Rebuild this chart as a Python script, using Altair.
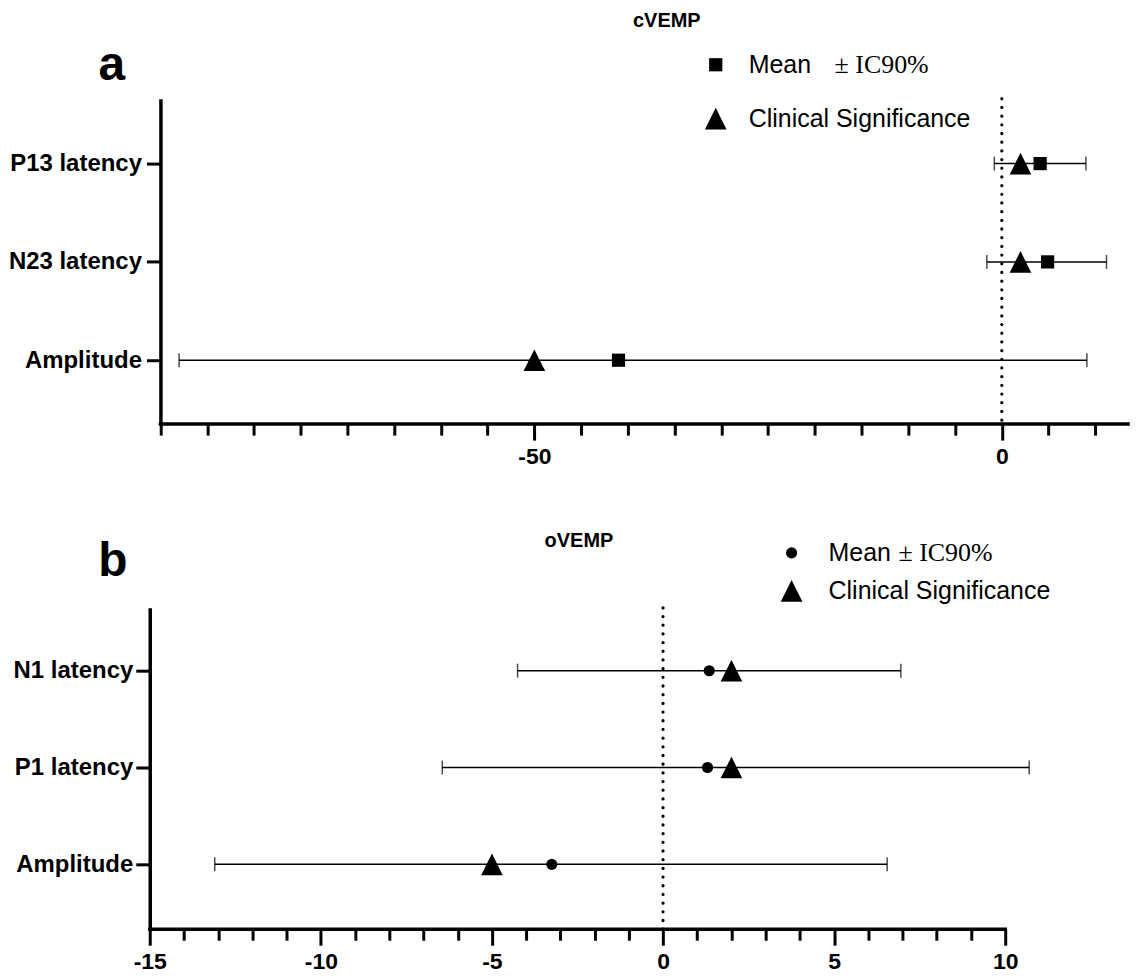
import altair as alt
import pandas as pd

# ---------- Panel a (cVEMP) ----------
a_labels = ["P13 latency", "N23 latency", "Amplitude"]
a_pos = [3, 2, 1]
a_mean = [4.1, 4.9, -41.0]
a_low = [-0.8, -1.6, -88.0]
a_high = [9.0, 11.2, 9.1]
a_clin = [2.0, 2.0, -50.0]
a_ticks = [-90, -85, -80, -75, -70, -65, -60, -55, -50, -45, -40, -35, -30,
           -25, -20, -15, -10, -5, 0, 5, 10]
a_major = [-50, 0]
a_axis_ends = [-90, 13.5]

# ---------- Panel b (oVEMP) ----------
b_labels = ["N1 latency", "P1 latency", "Amplitude"]
b_pos = [3, 2, 1]
b_mean = [1.35, 1.3, -3.25]
b_low = [-4.25, -6.45, -13.1]
b_high = [6.95, 10.7, 6.55]
b_clin = [2.0, 2.0, -5.0]
b_ticks = [-15, -14, -13, -12, -11, -10, -9, -8, -7, -6, -5, -4, -3, -2, -1,
           0, 1, 2, 3, 4, 5, 6, 7, 8, 9, 10]
b_major = [-15, -10, -5, 0, 5, 10]
b_axis_ends = [-15, 10]

TRI = "M0,-1L-1,1L1,1Z"
SANS = "Liberation Sans"
SERIF = "Liberation Serif"


def one(text):
    return alt.Chart(pd.DataFrame({"t": [text]}))


def make_panel(labels, pos, mean, low, high, clin, xdom, axis_ends, ticks,
               major, width, height, ydom, yoffset, mean_shape, mean_size,
               title, title_xy, letter, letter_xy, sym_x, text_x, pm_x,
               leg_y1, leg_y2, ylab_pad, left_ext):
    df = pd.DataFrame({"pos": pos, "mean": mean, "low": low, "high": high,
                       "clin": clin, "lab": labels})
    major_s = "[" + ",".join(str(m) for m in major) + "]"
    test = f"indexof({major_s}, datum.value) >= 0"
    xscale = alt.Scale(domain=xdom, nice=False, zero=False)
    yscale = alt.Scale(domain=ydom, nice=False, zero=False)
    xaxis = alt.Axis(
        values=ticks, title=None, grid=False, domain=False,
        labelExpr=f"{test} ? '' + datum.value : ''",
        tickSize={"condition": {"test": test, "value": 16}, "value": 11},
        labelPadding=5, labelFontSize=23, labelFont=SANS,
        labelFontWeight="bold", labelColor="black",
        tickColor="black", tickWidth=3, labelFlush=False, labelOverlap=False,
    )
    yexpr = " : ".join(f"datum.value == {p} ? '{l}'" for p, l in zip(pos, labels)) + " : ''"
    yaxis = alt.Axis(
        values=pos, title=None, grid=False, labelExpr=yexpr, offset=yoffset,
        tickSize=14, labelPadding=ylab_pad, labelFontSize=24, labelFont=SANS,
        labelFontWeight="bold", labelColor="black",
        domainColor="black", domainWidth=3.5, tickColor="black", tickWidth=3,
    )

    def X(f):
        return alt.X(f, type="quantitative", scale=xscale, axis=xaxis)

    def Y(f):
        return alt.Y(f, type="quantitative", scale=yscale, axis=yaxis)

    base = alt.Chart(df)
    xline = alt.Chart(pd.DataFrame({"x0": [axis_ends[0]], "x1": [axis_ends[1]]})).mark_rule(
        color="black", strokeWidth=3.5, strokeCap="square"
    ).encode(x=X("x0"), x2="x1", y=alt.value(height))
    zero = alt.Chart(pd.DataFrame({"z": [0]})).mark_rule(
        color="black", strokeWidth=3.2, strokeCap="round", strokeDash=[0.1, 8.6]
    ).encode(x=X("z"))
    err = base.mark_rule(color="black", strokeWidth=1.5).encode(
        x=X("low"), x2="high", y=Y("pos"))
    cap_lo = base.mark_tick(orient="vertical", size=14, thickness=1.5,
                            color="black").encode(x=X("low"), y=Y("pos"))
    cap_hi = base.mark_tick(orient="vertical", size=14, thickness=1.5,
                            color="black").encode(x=X("high"), y=Y("pos"))
    tri = base.mark_point(shape=TRI, filled=True, size=470, color="black",
                          opacity=1).encode(x=X("clin"), y=Y("pos"))
    mpt = base.mark_point(shape=mean_shape, filled=True, size=mean_size,
                          color="black", opacity=1).encode(x=X("mean"), y=Y("pos"))

    ttl = one(title).mark_text(font=SANS, fontWeight="bold", fontSize=20,
                               color="black", align="center",
                               baseline="middle").encode(
        x=alt.value(title_xy[0]), y=alt.value(title_xy[1]), text="t:N")
    let = one(letter).mark_text(font=SANS, fontWeight="bold", fontSize=48,
                                color="black", align="center",
                                baseline="middle").encode(
        x=alt.value(letter_xy[0]), y=alt.value(letter_xy[1]), text="t:N")
    s1 = one("s").mark_point(shape=mean_shape, filled=True, size=mean_size,
                             color="black", opacity=1).encode(
        x=alt.value(sym_x), y=alt.value(leg_y1))
    s2 = one("s").mark_point(shape=TRI, filled=True, size=470, color="black",
                             opacity=1).encode(
        x=alt.value(sym_x), y=alt.value(leg_y2))
    t1 = one("Mean").mark_text(font=SANS, fontSize=25, color="black",
                               align="left", baseline="middle").encode(
        x=alt.value(text_x), y=alt.value(leg_y1), text="t:N")
    t1b = one("\u00b1 IC90%").mark_text(font=SERIF, fontSize=26, color="black",
                                        align="left", baseline="middle").encode(
        x=alt.value(pm_x), y=alt.value(leg_y1), text="t:N")
    t2 = one("Clinical Significance").mark_text(
        font=SANS, fontSize=25, color="black", align="left",
        baseline="middle").encode(x=alt.value(text_x), y=alt.value(leg_y2),
                                  text="t:N")
    # invisible anchor fixing the panel's left extent
    ext = one(".").mark_text(fontSize=10, opacity=0, align="left").encode(
        x=alt.value(left_ext), y=alt.value(height / 2), text="t:N")
    layers = [xline, zero, err, cap_lo, cap_hi, tri, mpt, ttl, let, s1, s2,
              t1, t1b, t2, ext]
    return alt.layer(*layers).properties(width=width, height=height)


pa = make_panel(a_labels, a_pos, a_mean, a_low, a_high, a_clin,
                [-91.14, 13.5], a_axis_ends, a_ticks, a_major, 980, 326,
                [0.35, 3.66], -10.7, "square", 175, "cVEMP", (518, -78),
                "a", (-38, -33), 567, 600, 686, -34, 20, 5, -142)
pb = make_panel(b_labels, b_pos, b_mean, b_low, b_high, b_clin,
                [-15, 10], b_axis_ends, b_ticks, b_major, 857, 322,
                [0.33, 3.65], 0, "circle", 125, "oVEMP", (430, -67),
                "b", (-37, -46), 643, 680, 750, -55, -17, 3, -142)

chart = alt.concat(pa, pb, columns=1, align="none", spacing=63).resolve_scale(
    x="independent", y="independent"
).properties(
    padding={"top": 2, "left": 0, "right": 0, "bottom": 0},
    background="white",
).configure_view(stroke=None)

chart.save("out.html", embed_options={"renderer": "svg", "actions": False})
